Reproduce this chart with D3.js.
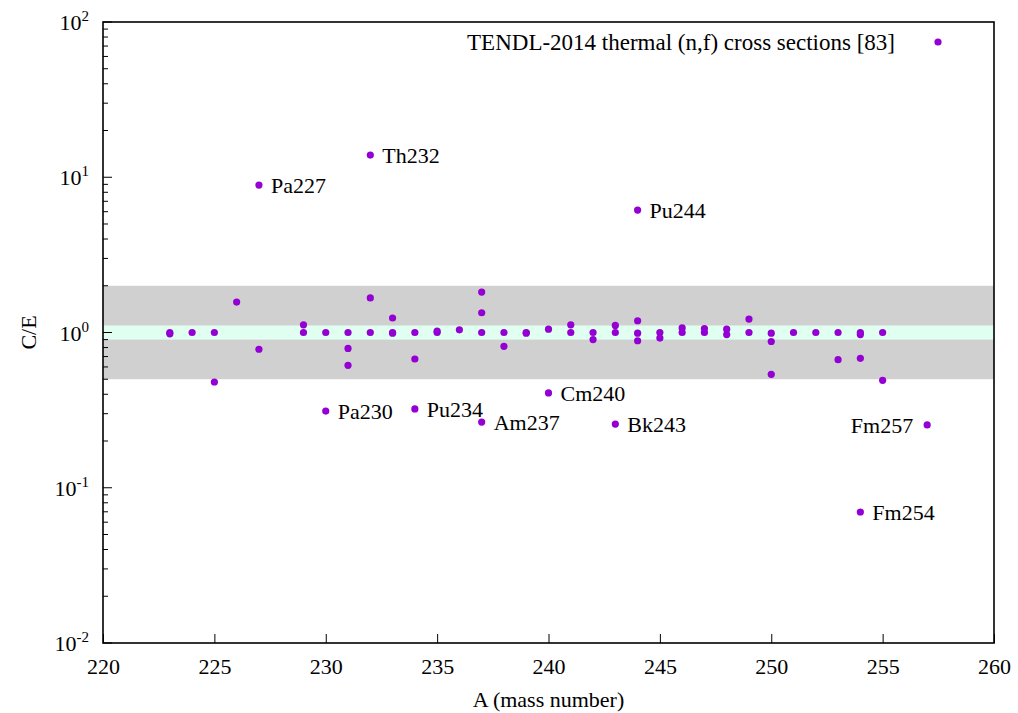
<!DOCTYPE html>
<html>
<head>
<meta charset="utf-8">
<script src="https://cdn.jsdelivr.net/npm/d3@7"></script>
<style>
  html, body { margin: 0; padding: 0; background: #fff; }
  svg text { font-family: "Liberation Serif", "Times New Roman", serif; fill: #000; }
</style>
</head>
<body>
<svg id="chart" width="1018" height="713"></svg>
<script>
// Calculated / experimental thermal fission cross-section ratios by mass number
const massNumber = [
  223, 223, 224, 225, 225, 226, 227, 229, 229, 230, 231, 231, 231,
  232, 232, 233, 233, 233, 234, 234, 235, 235, 236, 237, 237, 237,
  238, 238, 239, 239, 240, 241, 241, 242, 242, 243, 243, 244, 244, 244,
  245, 245, 246, 246, 247, 247, 248, 248, 249, 249, 250, 250, 250,
  251, 252, 253, 253, 254, 254, 254, 255, 255
];
const ratioCE = [
  1.0, 0.98, 1.0, 1.0, 0.48, 1.57, 0.78, 1.12, 1.0, 1.0, 1.0, 0.79, 0.615,
  1.67, 1.0, 1.24, 1.0, 0.99, 1.0, 0.675, 1.0, 1.02, 1.04, 1.82, 1.34, 1.0,
  1.0, 0.815, 1.0, 0.99, 1.05, 1.12, 1.0, 1.0, 0.9, 1.11, 1.0, 1.19, 0.99, 0.885,
  1.0, 0.92, 1.07, 1.0, 1.06, 1.0, 1.05, 0.97, 1.22, 1.0, 0.99, 0.875, 0.538,
  1.0, 1.0, 1.0, 0.668, 0.97, 1.0, 0.682, 1.0, 0.492
];

// Named outliers
const outlierNames = ["Pa227", "Th232", "Pu244", "Pa230", "Pu234", "Am237", "Cm240", "Bk243", "Fm257", "Fm254"];
const outlierA     = [227, 232, 244, 230, 234, 237, 240, 243, 257, 254];
const outlierCE    = [8.9, 13.9, 6.15, 0.312, 0.322, 0.265, 0.408, 0.257, 0.254, 0.0698];

// Agreement bands
const outerBand = [0.5, 2.0];
const innerBand = [0.9, 1.11];

const xTicks = [220, 225, 230, 235, 240, 245, 250, 255, 260];
const yDecades = [-2, -1, 0, 1, 2];

const legendText = "TENDL-2014 thermal (n,f) cross sections [83]";
const xTitle = "A (mass number)";
const yTitle = "C/E";

const W = 1018, H = 713;
const m = { left: 103, right: 1018 - 994, top: 22, bottom: 713 - 643 };
const iw = W - m.left - m.right, ih = H - m.top - m.bottom;
const pointColor = "#9400d3";
const fontSize = 22;

const svg = d3.select("#chart");
const g = svg.append("g").attr("transform", `translate(${m.left},${m.top})`);

const x = d3.scaleLinear().domain([220, 260]).range([0, iw]);
const y = d3.scaleLog().domain([0.01, 100]).range([ih, 0]);

// bands
g.append("rect")
  .attr("x", 0).attr("width", iw)
  .attr("y", y(outerBand[1])).attr("height", y(outerBand[0]) - y(outerBand[1]))
  .attr("fill", "#d0d0d0");
g.append("rect")
  .attr("x", 0).attr("width", iw)
  .attr("y", y(innerBand[1])).attr("height", y(innerBand[0]) - y(innerBand[1]))
  .attr("fill", "#e0fff0");

// x axis ticks (inward, bottom only)
const xAxis = d3.axisBottom(x).tickValues(xTicks).tickSizeInner(-9).tickSizeOuter(0).tickPadding(14);
const gx = g.append("g").attr("transform", `translate(0,${ih})`).call(xAxis);
gx.attr("font-family", null);
gx.select(".domain").remove();
gx.selectAll("line").attr("stroke", "#000").attr("stroke-width", 1);
gx.selectAll("text")
  .attr("font-size", fontSize)
  .attr("y", 31).attr("dy", 0);

// y axis ticks (inward, left only, with minor log ticks)
const minorVals = [];
for (let e = -2; e < 2; e++) for (let k = 2; k <= 9; k++) minorVals.push(k * Math.pow(10, e));
g.append("g").selectAll("line.minor").data(minorVals).join("line")
  .attr("x1", 0).attr("x2", 5)
  .attr("y1", d => y(d)).attr("y2", d => y(d))
  .attr("stroke", "#000").attr("stroke-width", 1);
g.append("g").selectAll("line.major").data(yDecades).join("line")
  .attr("x1", 0).attr("x2", 9)
  .attr("y1", d => y(Math.pow(10, d))).attr("y2", d => y(Math.pow(10, d)))
  .attr("stroke", "#000").attr("stroke-width", 1);

const yl = g.append("g").selectAll("text").data(yDecades).join("text")
  .attr("x", -14)
  .attr("y", d => y(Math.pow(10, d)) + 8)
  .attr("text-anchor", "end")
  .attr("font-size", fontSize);
yl.append("tspan").text("10");
yl.append("tspan").attr("dy", -9).attr("font-size", 15).text(d => d);

// frame
g.append("rect").attr("x", 0).attr("y", 0).attr("width", iw).attr("height", ih)
  .attr("fill", "none").attr("stroke", "#000").attr("stroke-width", 1.6);

// points
g.append("g").selectAll("circle").data(massNumber.map((a, i) => [a, ratioCE[i]])).join("circle")
  .attr("cx", d => x(d[0])).attr("cy", d => y(d[1])).attr("r", 3.6)
  .attr("fill", pointColor);

// labelled outliers
const outliers = outlierNames.map((n, i) => ({ name: n, a: outlierA[i], ce: outlierCE[i] }));
g.append("g").selectAll("circle").data(outliers).join("circle")
  .attr("cx", d => x(d.a)).attr("cy", d => y(d.ce)).attr("r", 3.6)
  .attr("fill", pointColor);
g.append("g").selectAll("text").data(outliers).join("text")
  .attr("x", d => d.name === "Fm257" ? x(d.a) - 14 : x(d.a) + 12)
  .attr("y", d => y(d.ce) + 8)
  .attr("text-anchor", d => d.name === "Fm257" ? "end" : "start")
  .attr("font-size", fontSize)
  .text(d => d.name);

// legend
g.append("text").attr("x", 895 - m.left).attr("y", 50 - m.top)
  .attr("text-anchor", "end").attr("font-size", 23).text(legendText);
g.append("circle").attr("cx", 938 - m.left).attr("cy", 42 - m.top).attr("r", 3.6).attr("fill", pointColor);

// axis titles
svg.append("text").attr("x", m.left + iw / 2).attr("y", 707)
  .attr("text-anchor", "middle").attr("font-size", fontSize).text(xTitle);
svg.append("text").attr("transform", `translate(36,${m.top + ih / 2}) rotate(-90)`)
  .attr("text-anchor", "middle").attr("font-size", fontSize).text(yTitle);
</script>
</body>
</html>
